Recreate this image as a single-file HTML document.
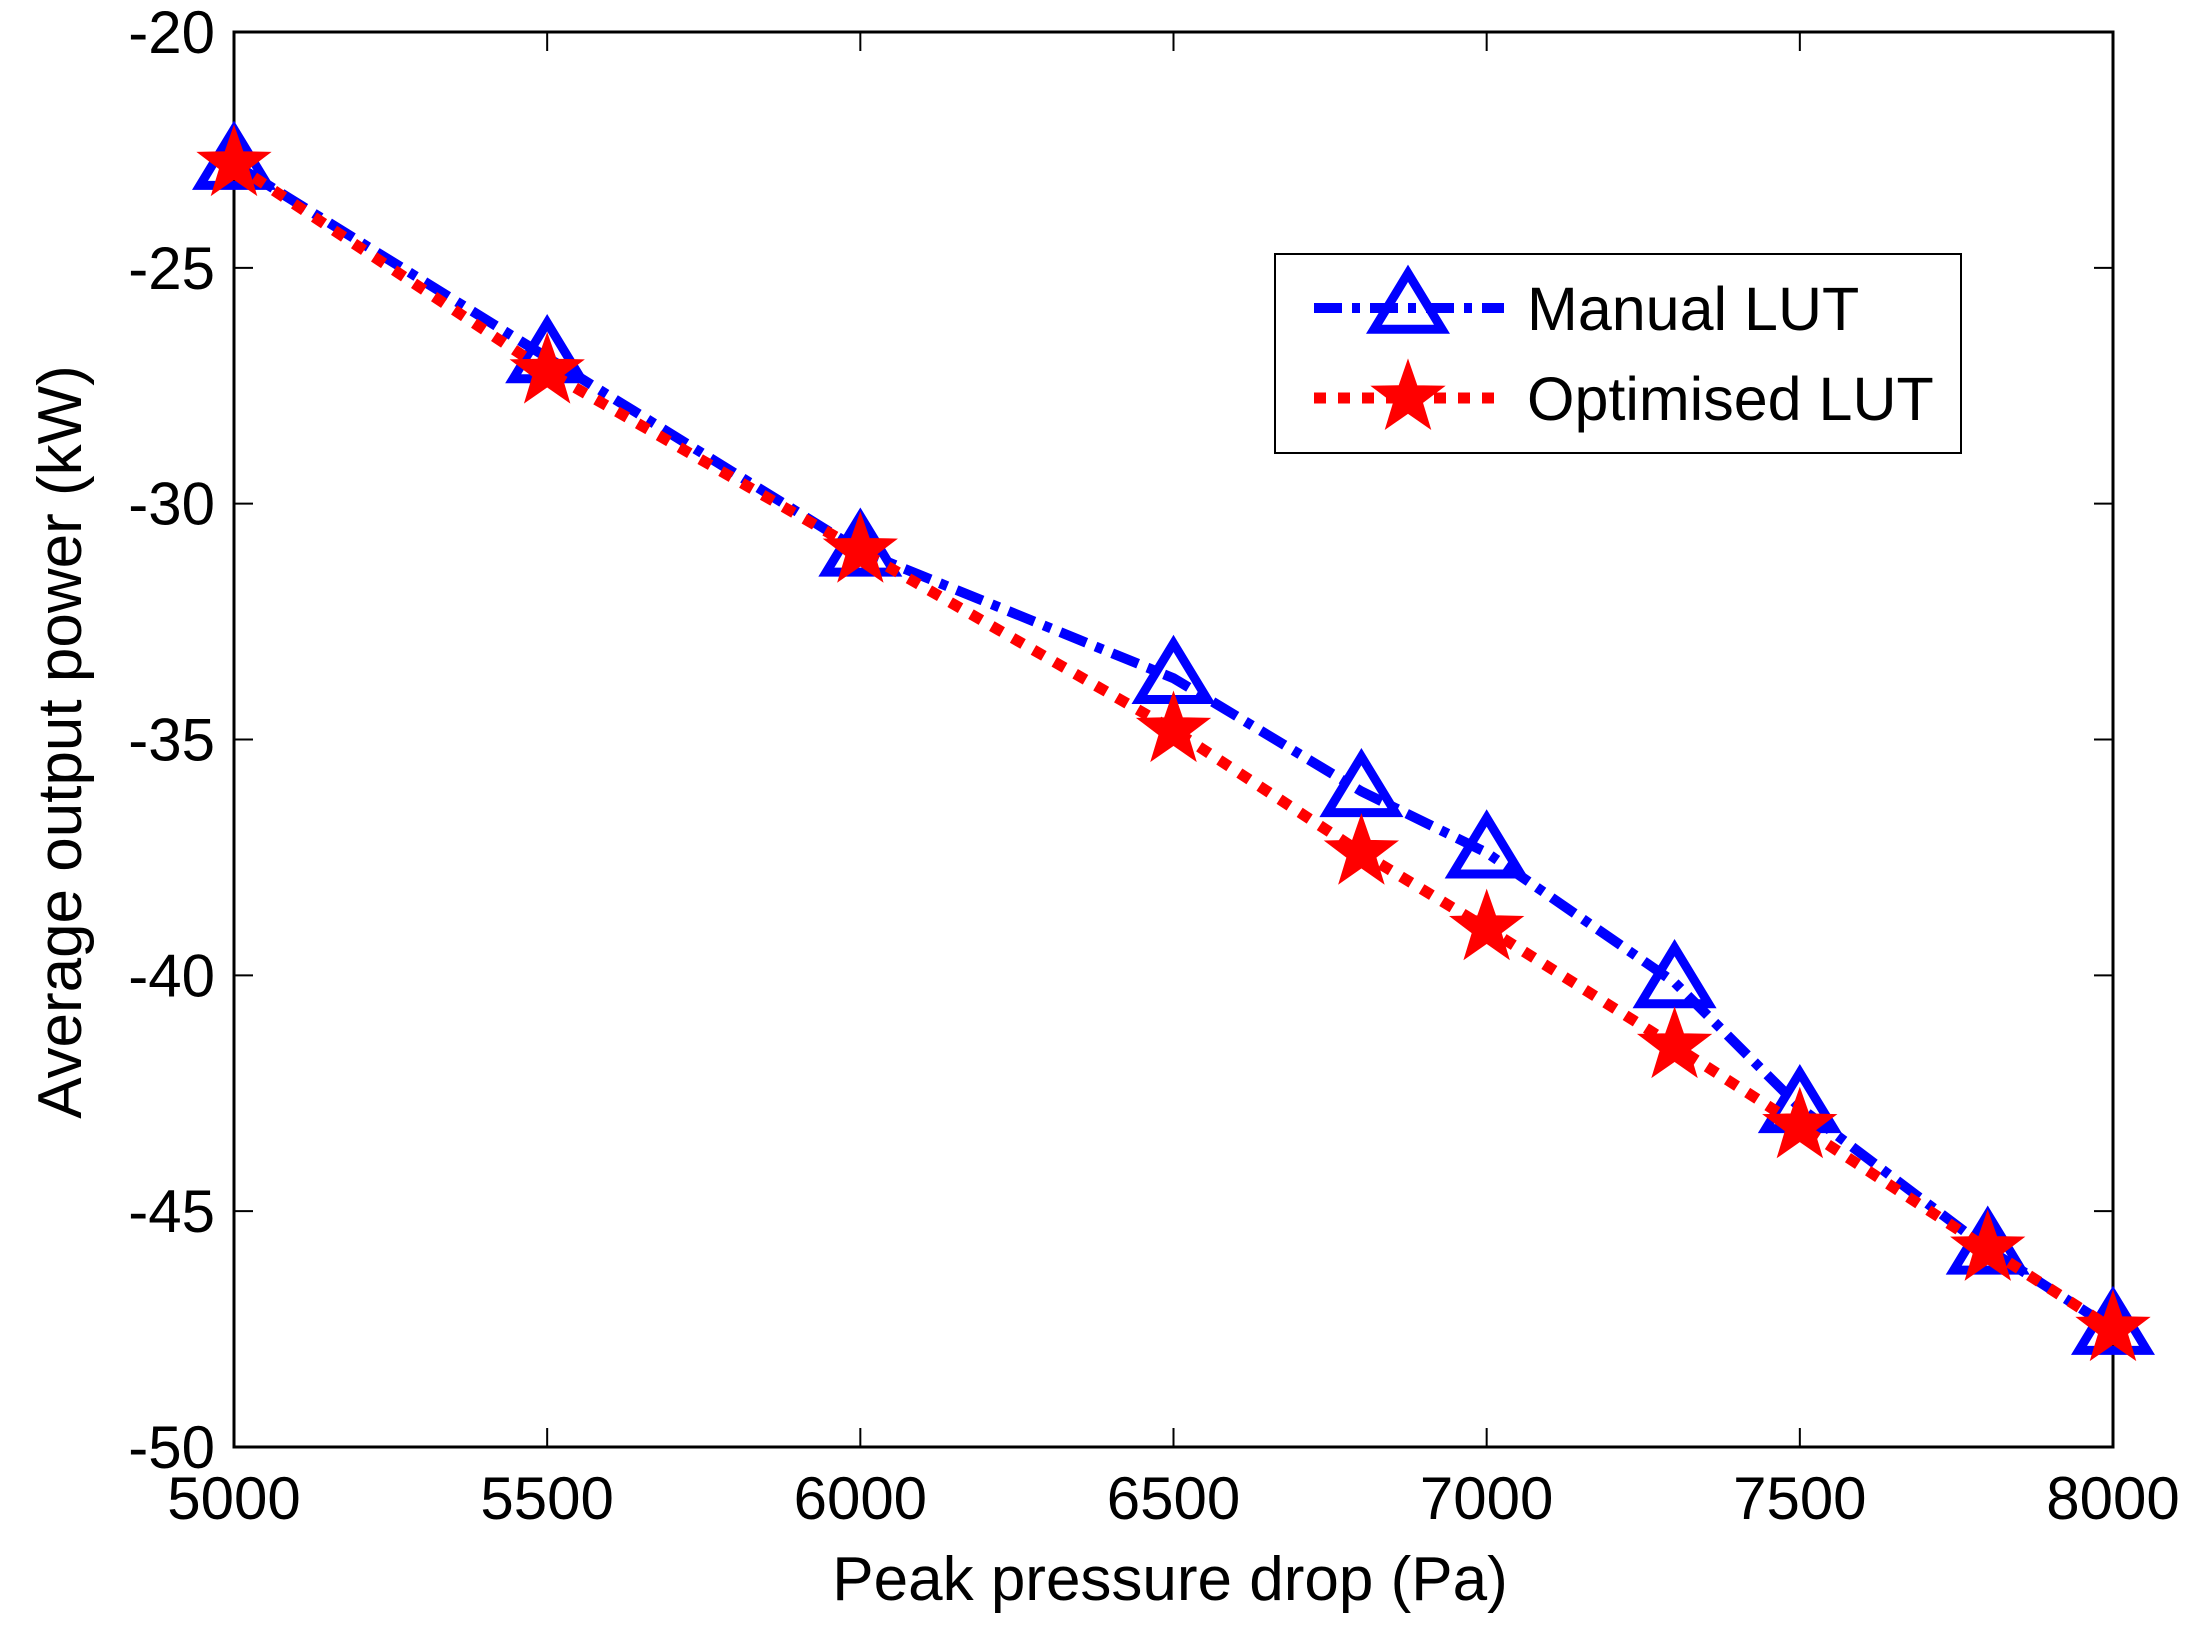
<!DOCTYPE html>
<html><head><meta charset="utf-8"><style>
html,body{margin:0;padding:0;background:#fff}
svg{display:block}
text{font-family:"Liberation Sans",Arial,sans-serif;fill:#000}
</style></head><body>
<svg id="chart" width="2194" height="1628" viewBox="0 0 2194 1628" xmlns="http://www.w3.org/2000/svg">
<rect x="0" y="0" width="2194" height="1628" fill="#fff"/>
<g id="axes"></g>
<g id="series"></g>
<g id="legend"></g>
</svg>
<script>
const xValues=[5000,5500,6000,6500,6800,7000,7300,7500,7800,8000];
const manualLUT=[-22.8,-26.9,-31.0,-33.7,-36.1,-37.4,-40.15,-42.8,-45.8,-47.5];
const optimisedLUT=[-22.8,-27.2,-31.0,-34.8,-37.4,-39.0,-41.5,-43.2,-45.8,-47.5];
const xTicks=[5000,5500,6000,6500,7000,7500,8000];
const yTicks=[-20,-25,-30,-35,-40,-45,-50];
const seriesNames=["Manual LUT","Optimised LUT"];

const L=234,R=2113,T=32,B=1447;
const xMin=5000,xMax=8000,yMin=-50,yMax=-20;
const sx=v=>L+(v-xMin)/(xMax-xMin)*(R-L);
const sy=v=>B-(v-yMin)/(yMax-yMin)*(B-T);
const NS="http://www.w3.org/2000/svg";
function mk(tag,attrs,parent){const e=document.createElementNS(NS,tag);for(const k in attrs)e.setAttribute(k,attrs[k]);parent.appendChild(e);return e;}
const axes=document.getElementById('axes'),series=document.getElementById('series'),legend=document.getElementById('legend');

let box=mk('rect',{x:L,y:T,width:R-L,height:B-T,fill:'none',stroke:'#000','stroke-width':3},axes);


const tl=19;
xTicks.forEach(v=>{
  const x=sx(v);
  let t1=mk('line',{x1:x,y1:B,x2:x,y2:B-tl,stroke:'#000','stroke-width':2},axes);
  
  
  let t2=mk('line',{x1:x,y1:T,x2:x,y2:T+tl,stroke:'#000','stroke-width':2},axes);
  
  
  let lb=mk('text',{x:x,y:1519,'text-anchor':'middle','font-size':60},axes);
  lb.textContent=v;
  
  
});
yTicks.forEach(v=>{
  const y=sy(v);
  let t1=mk('line',{x1:L,y1:y,x2:L+tl,y2:y,stroke:'#000','stroke-width':2},axes);
  
  
  let t2=mk('line',{x1:R,y1:y,x2:R-tl,y2:y,stroke:'#000','stroke-width':2},axes);
  
  
  let lb=mk('text',{x:215,y:y+21,'text-anchor':'end','font-size':60},axes);
  lb.textContent=v;
  
  
});
let xt=mk('text',{x:1170,y:1600,'text-anchor':'middle','font-size':62},axes);
xt.textContent='Peak pressure drop (Pa)';


let yt=mk('text',{x:0,y:0,'text-anchor':'middle','font-size':62,transform:'translate(81,742) rotate(-90)'},axes);
yt.textContent='Average output power (kW)';



const blueDash='28 10 8 10', redDash='12 12';
function tri(cx,cy,parent){
  const h=56,w=68;
  return mk('polygon',{points:`${cx},${cy-h*0.62} ${cx-w/2},${cy+h*0.38} ${cx+w/2},${cy+h*0.38}`,fill:'none',stroke:'#0000ff','stroke-width':9,'stroke-linejoin':'miter'},parent);
}
function star(cx,cy,parent){
  const Ro=35,Ri=14;let p=[];
  for(let i=0;i<10;i++){const r=i%2?Ri:Ro;const a=-Math.PI/2+i*Math.PI/5;p.push((cx+r*Math.cos(a)).toFixed(1)+','+(cy+r*Math.sin(a)).toFixed(1));}
  return mk('polygon',{points:p.join(' '),fill:'#ff0000',stroke:'#ff0000','stroke-width':3},parent);
}
let pm=mk('polyline',{points:xValues.map((v,i)=>sx(v)+','+sy(manualLUT[i])).join(' '),fill:'none',stroke:'#0000ff','stroke-width':10,'stroke-dasharray':blueDash},series);


xValues.forEach((v,i)=>{
  let m=tri(sx(v),sy(manualLUT[i]),series);
  
  
});
let po=mk('polyline',{points:xValues.map((v,i)=>sx(v)+','+sy(optimisedLUT[i])).join(' '),fill:'none',stroke:'#ff0000','stroke-width':11,'stroke-dasharray':redDash},series);


xValues.forEach((v,i)=>{
  let m=star(sx(v),sy(optimisedLUT[i]),series);
  
  
});

let lbx=mk('rect',{x:1275,y:254,width:686,height:199,fill:'#fff',stroke:'#000','stroke-width':2},legend);


let l1=mk('line',{x1:1314,y1:308,x2:1504,y2:308,stroke:'#0000ff','stroke-width':10,'stroke-dasharray':blueDash},legend);


let lm1=tri(1408,308,legend);


let tx1=mk('text',{x:1527,y:330,'font-size':61},legend);
tx1.textContent=seriesNames[0];


let l2=mk('line',{x1:1314,y1:398,x2:1504,y2:398,stroke:'#ff0000','stroke-width':11,'stroke-dasharray':redDash},legend);


let lm2=star(1408,398,legend);


let tx2=mk('text',{x:1527,y:420,'font-size':61},legend);
tx2.textContent=seriesNames[1];


</script>
</body></html>
